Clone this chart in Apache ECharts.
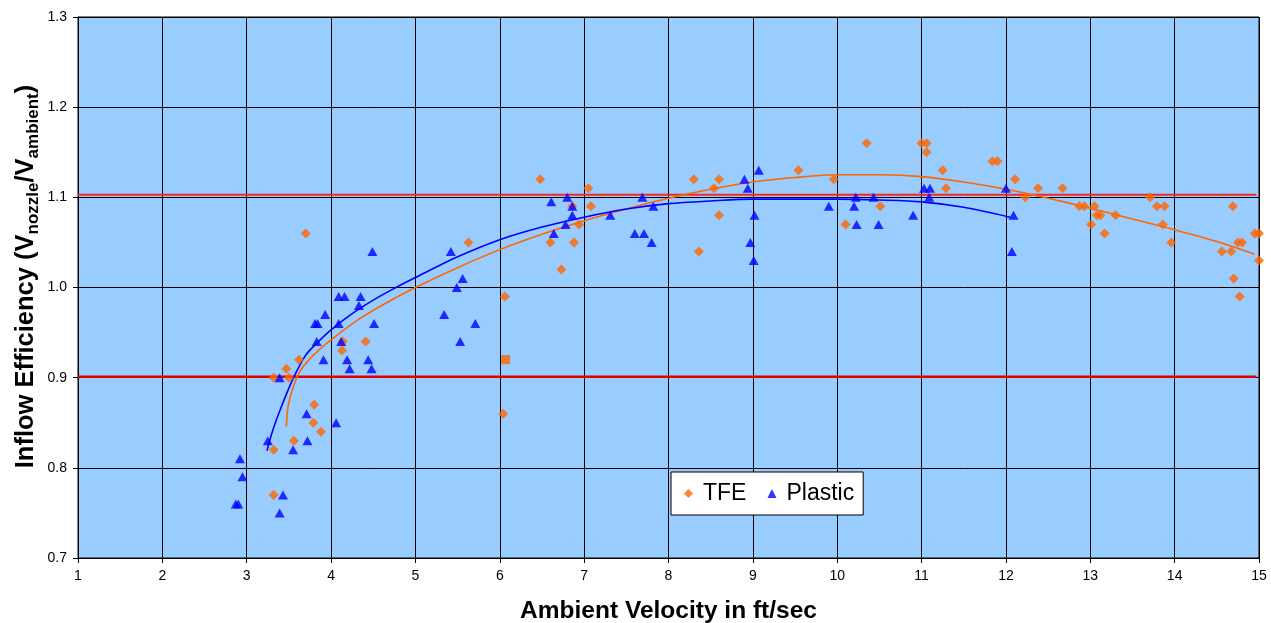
<!DOCTYPE html>
<html><head><meta charset="utf-8">
<script src="https://cdn.jsdelivr.net/npm/echarts@6/dist/echarts.min.js"></script>
<style>html,body{margin:0;padding:0;background:#fff}#c{width:1271px;height:623px}</style>
</head><body><div id="c"></div>
<script>
const xTicks = [1,2,3,4,5,6,7,8,9,10,11,12,13,14,15];
const yTicks = [0.7,0.8,0.9,1.0,1.1,1.2,1.3];

const tfeX = [3.32,3.32,3.32,3.47,3.50,3.62,3.70,3.80,3.79,3.88,3.56,4.14,4.13,4.41,5.63,6.06,6.04,6.48,6.60,6.73,6.88,6.94,6.86,7.05,7.08,8.30,8.36,8.54,8.60,8.60,9.54,9.96,10.10,10.35,10.51,11.00,11.06,11.06,11.25,11.29,11.84,11.90,12.11,12.23,12.38,12.67,12.87,12.93,13.05,13.08,13.12,13.01,13.17,13.30,13.71,13.79,13.88,13.86,13.96,14.56,14.67,14.69,14.70,14.75,14.80,14.77,14.95,15.00,15.00];
const tfeY = [0.82,0.77,0.90,0.91,0.90,0.92,1.06,0.87,0.85,0.84,0.83,0.94,0.93,0.94,1.05,0.99,0.86,1.12,1.05,1.02,1.05,1.07,1.09,1.11,1.09,1.12,1.04,1.11,1.12,1.08,1.13,1.12,1.07,1.16,1.09,1.16,1.16,1.15,1.13,1.11,1.14,1.14,1.12,1.10,1.11,1.11,1.09,1.09,1.09,1.08,1.08,1.07,1.06,1.08,1.10,1.09,1.09,1.07,1.05,1.04,1.04,1.09,1.01,1.05,1.05,0.99,1.06,1.06,1.03];
const tfeSquareX = [6.07];
const tfeSquareY = [0.92];

const plasticX = [2.87,2.90,2.92,2.95,3.25,3.39,3.43,3.39,3.55,3.71,3.72,4.06,3.83,3.81,3.84,3.93,3.91,4.09,4.16,4.09,4.12,4.19,4.22,4.33,4.35,4.44,4.48,4.49,4.51,5.34,5.42,5.49,5.56,5.53,5.71,6.61,6.64,6.78,6.80,6.86,6.86,7.31,7.60,7.71,7.69,7.80,7.82,8.90,8.94,8.97,9.01,9.02,9.07,9.90,10.20,10.22,10.23,10.43,10.49,10.90,11.03,11.10,11.09,12.00,12.07,12.09];
const plasticY = [0.76,0.76,0.81,0.79,0.83,0.75,0.77,0.90,0.82,0.86,0.83,0.85,0.94,0.96,0.96,0.97,0.92,0.99,0.99,0.96,0.94,0.92,0.91,0.98,0.99,0.92,0.91,1.04,0.96,0.97,1.04,1.00,1.01,0.94,0.96,1.095,1.06,1.07,1.10,1.09,1.08,1.08,1.06,1.06,1.10,1.05,1.09,1.12,1.11,1.05,1.03,1.08,1.13,1.09,1.09,1.10,1.07,1.10,1.07,1.08,1.11,1.11,1.10,1.11,1.04,1.08];

// trend curves
const plasticTrendX = [3.24,3.31,3.42,3.55,3.70,3.85,4.00,4.25,4.50,4.75,5.00,5.50,6.00,6.50,7.00,7.50,8.00,8.50,9.00,9.50,10.00,10.50,11.00,11.50,12.05];
const plasticTrendY = [0.819,0.842,0.870,0.899,0.925,0.940,0.953,0.971,0.986,0.999,1.011,1.034,1.053,1.067,1.078,1.087,1.093,1.096,1.098,1.098,1.098,1.097,1.095,1.089,1.078];
const tfeTrendX = [3.47,3.49,3.55,3.63,3.75,3.87,4.00,4.30,4.60,5.00,5.50,6.00,6.50,7.00,7.50,8.00,8.50,9.00,9.50,10.00,10.50,11.00,11.50,12.00,12.50,13.00,13.50,14.00,14.50,14.95];
const tfeTrendY = [0.846,0.868,0.889,0.907,0.921,0.932,0.942,0.963,0.980,1.000,1.022,1.042,1.059,1.074,1.087,1.099,1.109,1.117,1.122,1.125,1.125,1.123,1.117,1.109,1.099,1.088,1.076,1.064,1.051,1.037];

const upperLimitX = [1, 14.97];
const upperLimitY = [1.103, 1.103];
const lowerLimitX = [1, 14.97];
const lowerLimitY = [0.901, 0.901];

const zip = (a,b) => a.map((v,i)=>[v,b[i]]);
const FF = 'Liberation Sans, Arial, sans-serif';

const chart = echarts.init(document.getElementById('c'));
chart.setOption({
  animation:false,
  textStyle:{fontFamily:FF},
  grid:{left:78, right:12, top:17, bottom:65, outerBoundsMode:'none', containLabel:false, show:true, backgroundColor:'#99CCFF', borderColor:'#000', borderWidth:1},
  xAxis:{type:'value', min:xTicks[0], max:xTicks[xTicks.length-1], interval:1,
    axisLine:{show:true, lineStyle:{color:'#000'}},
    axisTick:{show:true, length:5, lineStyle:{color:'#000'}},
    axisLabel:{color:'#000', fontSize:14, margin:11},
    splitLine:{show:true, lineStyle:{color:'#000', width:1}},
    name:'Ambient Velocity in ft/sec', nameLocation:'middle', nameGap:41,
    nameTextStyle:{fontSize:24.5, fontWeight:'bold', color:'#000', fontFamily:FF}},
  yAxis:{type:'value', min:yTicks[0], max:yTicks[yTicks.length-1], interval:0.1,
    axisLine:{show:true, lineStyle:{color:'#000'}},
    axisTick:{show:true, length:5, lineStyle:{color:'#000'}},
    axisLabel:{color:'#000', fontSize:14, margin:11, formatter:v=>v.toFixed(1)},
    splitLine:{show:true, lineStyle:{color:'#000', width:1}},
    name:'{a|Inflow Efficiency (V}{s|nozzle}{a|/V}{s|ambient}{a|)}', nameLocation:'middle', nameGap:36, nameMoveOverlap:false,
    nameTextStyle:{color:'#000', padding:[0,0,0,22], rich:{
      a:{fontSize:25.5, fontWeight:'bold', color:'#000', fontFamily:FF},
      s:{fontSize:17, fontWeight:'bold', color:'#000', fontFamily:FF, padding:[15,0,0,0]}
    }}},
  legend:{left:671, top:472, data:['TFE','Plastic'], backgroundColor:'#fff', borderColor:'#000', borderWidth:1,
    padding:[10,9,10,13], itemGap:21, itemWidth:9, itemHeight:9,
    textStyle:{fontSize:23, color:'#000', fontFamily:FF, padding:[0,0,0,5]}},
  series:[
    {name:'upper', type:'line', data:zip(upperLimitX,upperLimitY), showSymbol:false, silent:true, lineStyle:{color:'#f02828', width:2}, z:2},
    {name:'lower', type:'line', data:zip(lowerLimitX,lowerLimitY), showSymbol:false, silent:true, lineStyle:{color:'#e00000', width:2.5}, z:2},
    {name:'tfeTrend', type:'line', data:zip(tfeTrendX,tfeTrendY), smooth:0.3, showSymbol:false, silent:true, lineStyle:{color:'#FF6600', width:1.6}, z:3},
    {name:'plasticTrend', type:'line', data:zip(plasticTrendX,plasticTrendY), smooth:0.3, showSymbol:false, silent:true, lineStyle:{color:'#0000FF', width:1.6}, z:3},
    {name:'TFE', type:'scatter', symbol:'diamond', symbolSize:[10,10], itemStyle:{color:'#FF6600'}, data:zip(tfeX,tfeY), z:4},
    {name:'TFE', type:'scatter', symbol:'rect', symbolSize:[9,9], itemStyle:{color:'#FF6600'}, data:zip(tfeSquareX,tfeSquareY), z:4},
    {name:'Plastic', type:'scatter', symbol:'triangle', symbolSize:[10,9], itemStyle:{color:'#0000FF'}, data:zip(plasticX,plasticY), z:4}
  ]
});
</script></body></html>
